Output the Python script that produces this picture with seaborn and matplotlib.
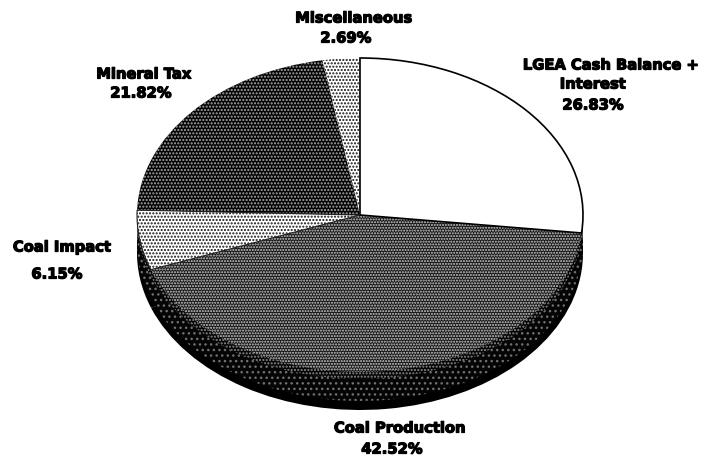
import matplotlib
matplotlib.use('Agg')
import matplotlib.pyplot as plt
import matplotlib.patheffects as pe
import seaborn as sns

sns.set_style('white')
plt.rcParams['font.family'] = ['DejaVu Sans']

# parts du budget, sens horaire depuis midi
labels = ['LGEA Cash Balance +', 'Coal Production', 'Coal Impact', 'Mineral Tax', 'Miscellaneous']
values = [26.83, 42.52, 6.15, 21.82, 2.69]
percent_labels = ['26.83%', '42.52%', '6.15%', '21.82%', '2.69%']

# fond, couleur des points et motif de chaque part
face_colors = ['white', '#161616', '#ffffff', '#050505', '#ffffff']
dot_colors = ['white', '#cfcfcf', '#111111', '#a8a8a8', '#111111']
hatches = [None, '......', '.....', '.....', '.....']

W, H = 704, 458
RX, RY = 223, 157
CX, CY = 360, 215
DEPTH = 38

fig = plt.figure(figsize=(W / 100, H / 100), dpi=100)
ax = fig.add_axes([0, 0, 1, 1])


def draw_pie(offset, colors):
    wedges, _ = ax.pie(values, colors=colors, startangle=90, counterclock=False,
                       center=(0, -offset / RY), radius=1, frame=False,
                       wedgeprops={'linewidth': 0})
    return wedges


# flanc du camembert : noir au fond, pointillé au-dessus
draw_pie(DEPTH, ['black'] * 5)
for offset, dots, hatch in [(DEPTH - 9, '#707070', '...'), (7, '#8c8c8c', '.....')]:
    for w in draw_pie(offset, ['#050505'] * 5):
        w.set_hatch(hatch)
        w.set_edgecolor(dots)

# dessus du camembert
top = draw_pie(0, face_colors)
for w, dots, hatch in zip(top, dot_colors, hatches):
    if hatch:
        w.set_hatch(hatch)
        w.set_edgecolor(dots)

# contour de la part blanche seulement, le reste tient par le motif
outline = draw_pie(0, ['none'] * 5)
outline[0].set_linewidth(1.2)
outline[0].set_edgecolor('black')
outline[2].set_linewidth(0.8)
outline[2].set_edgecolor('#222222')

ax.set_aspect('auto')
ax.set_xlim((0 - CX) / RX, (W - CX) / RX)
ax.set_ylim((CY - H) / RY, CY / RY)
ax.axis('off')

# étiquettes
text_rows = [
    (labels[0], 611, 65), ('Interest', 593, 84), (percent_labels[0], 593, 105),
    (labels[1], 400, 428), (percent_labels[1], 392, 449),
    (labels[2], 62, 247), (percent_labels[2], 57, 274),
    (labels[3], 144, 74), (percent_labels[3], 141, 93),
    (labels[4], 354, 18), (percent_labels[4], 346, 38),
]
for txt, x, y in text_rows:
    t = fig.text(x / W, 1 - y / H, txt, ha='center', va='center',
                 fontsize=10.6, fontweight='bold', color='black')
    t.set_path_effects([pe.withStroke(linewidth=0.9, foreground='black')])

fig.savefig('out.png', dpi=100)
